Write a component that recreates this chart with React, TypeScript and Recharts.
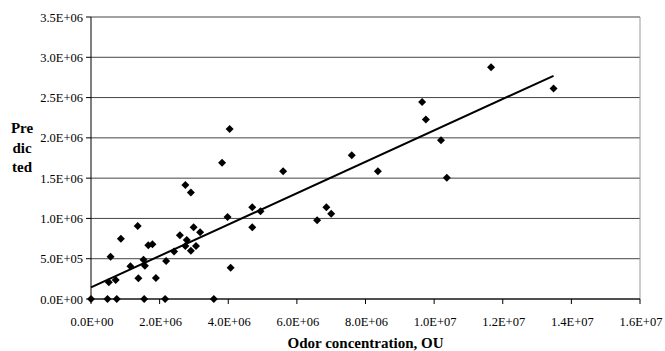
import React from 'react';
import { ScatterChart, Scatter, XAxis, YAxis, CartesianGrid, ReferenceLine } from 'recharts';

const odorConc: number[] = [
  0, 0.48e6, 0.75e6, 1.55e6, 2.16e6, 3.58e6, 0.52e6, 0.72e6, 0.57e6, 0.87e6,
  1.15e6, 1.38e6, 1.36e6, 1.53e6, 1.57e6, 1.67e6, 1.79e6, 1.89e6, 2.19e6, 2.42e6,
  2.59e6, 2.75e6, 2.79e6, 2.75e6, 2.91e6, 2.91e6, 2.99e6, 3.06e6, 3.18e6, 3.82e6,
  4.04e6, 3.98e6, 4.07e6, 4.70e6, 4.70e6, 4.94e6, 5.60e6, 6.59e6, 6.86e6, 7.00e6,
  7.60e6, 8.36e6, 9.65e6, 9.76e6, 10.20e6, 10.37e6, 11.66e6, 13.48e6,
];
const predicted: number[] = [
  0, 0, 0, 0, 0, 0, 0.207e6, 0.236e6, 0.525e6, 0.748e6,
  0.405e6, 0.256e6, 0.906e6, 0.488e6, 0.413e6, 0.666e6, 0.678e6, 0.261e6, 0.471e6, 0.591e6,
  0.79e6, 0.658e6, 0.732e6, 1.414e6, 1.323e6, 0.6e6, 0.889e6, 0.658e6, 0.827e6, 1.69e6,
  2.109e6, 1.017e6, 0.389e6, 1.138e6, 0.889e6, 1.088e6, 1.584e6, 0.976e6, 1.138e6, 1.059e6,
  1.783e6, 1.584e6, 2.444e6, 2.229e6, 1.969e6, 1.505e6, 2.875e6, 2.614e6,
];
const trendX: number[] = [0, 13.48e6];
const trendY: number[] = [0.145e6, 2.77e6];
const xTicks: number[] = [0, 2e6, 4e6, 6e6, 8e6, 10e6, 12e6, 14e6, 16e6];
const yTicks: number[] = [0, 0.5e6, 1e6, 1.5e6, 2e6, 2.5e6, 3e6, 3.5e6];

const points = odorConc.map((x, i) => ({ x, y: predicted[i] }));
const trend = trendX.map((x, i) => ({ x, y: trendY[i] }));

const fmt = (v: number) => {
  const s = v.toExponential(1);
  const [m, e] = s.split('e');
  const sign = e[0];
  const digits = e.slice(1).padStart(2, '0');
  return `${m}E${sign}${digits}`;
};

const FONT = "Liberation Serif";

const Diamond = (props: any) => {
  const { cx, cy } = props;
  const r = 4;
  return <polygon points={`${cx},${cy - r} ${cx + r},${cy} ${cx},${cy + r} ${cx - r},${cy}`} fill="#000" />;
};

const NoShape = () => <g />;

const XTick = (props: any) => {
  const { x, y, payload } = props;
  return (
    <text x={x + 1} y={y + 20} textAnchor="middle" style={{ fontFamily: FONT, fontSize: 12.5 }} fill="#000">
      {fmt(payload.value)}
    </text>
  );
};

const YTick = (props: any) => {
  const { x, y, payload } = props;
  return (
    <text x={x - 1} y={y + 4.5} textAnchor="end" style={{ fontFamily: FONT, fontSize: 12.5 }} fill="#000">
      {fmt(payload.value)}
    </text>
  );
};

const YLabel = () => (
  <text style={{ fontFamily: FONT, fontSize: 15, fontWeight: 'bold' }} fill="#000" textAnchor="middle">
    <tspan x={22} y={133}>Pre</tspan>
    <tspan x={22} y={153}>dic</tspan>
    <tspan x={22} y={172}>ted</tspan>
  </text>
);

export default function App() {
  return (
    <div style={{ position: 'absolute', left: 0, top: 0, width: 665, height: 351, background: '#fff' }}>
      <ScatterChart width={665} height={351} margin={{ top: 17, right: 25, bottom: 0, left: 0 }}>
        <CartesianGrid horizontal={true} vertical={false} stroke="#444" strokeWidth={1} />
        <XAxis
          type="number"
          dataKey="x"
          domain={[0, 16e6]}
          ticks={xTicks}
          height={52}
          stroke="#000"
          tickSize={5}
          tick={<XTick />}
          interval={0}
          label={{ value: 'Odor concentration, OU', position: 'insideBottom', offset: 3, style: { fontFamily: FONT, fontSize: 15, fontWeight: 'bold', fill: '#000' } }}
        />
        <YAxis
          type="number"
          dataKey="y"
          domain={[0, 3.5e6]}
          ticks={yTicks}
          width={91}
          stroke="#000"
          tickSize={5}
          tick={<YTick />}
          interval={0}
          label={<YLabel />}
        />
        <ReferenceLine x={16e6} stroke="#999" strokeWidth={1} />
        <Scatter data={points} shape={<Diamond />} isAnimationActive={false} />
        <Scatter data={trend} line={{ stroke: '#000', strokeWidth: 2 }} lineType="joint" shape={<NoShape />} isAnimationActive={false} />
      </ScatterChart>
    </div>
  );
}
